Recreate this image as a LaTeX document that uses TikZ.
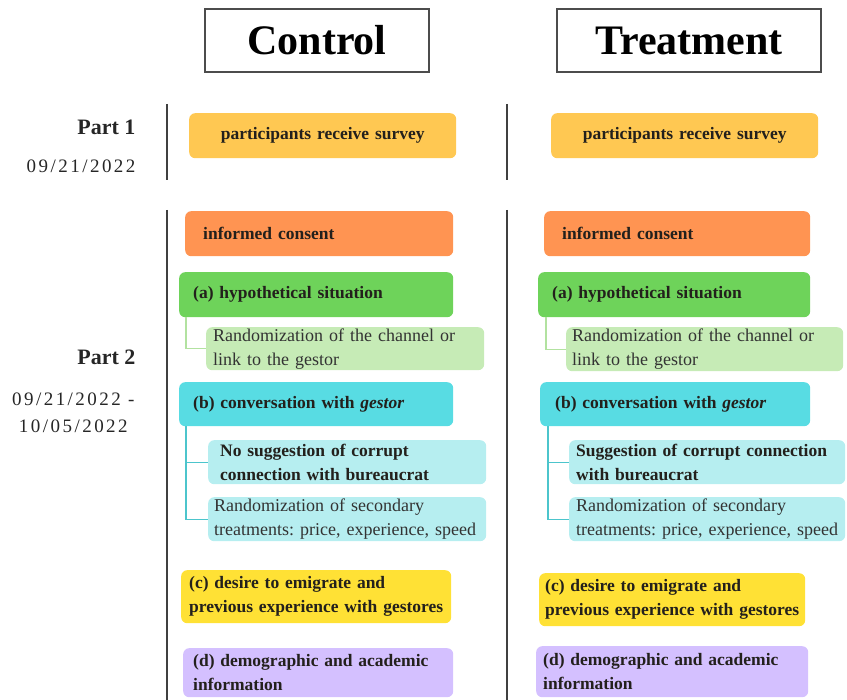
\documentclass[tikz,border=0pt]{standalone}
\usepackage{fontspec}
\setmainfont{Liberation Serif}
\newfontfamily\datefont[LetterSpace=13]{Liberation Serif}
\usetikzlibrary{calc}
\definecolor{csurvey}{RGB}{255,200,82}
\definecolor{cconsent}{RGB}{255,148,82}
\definecolor{chypo}{RGB}{110,211,90}
\definecolor{crand}{RGB}{198,235,182}
\definecolor{cconv}{RGB}{88,220,227}
\definecolor{csub}{RGB}{182,238,240}
\definecolor{cdesire}{RGB}{255,225,53}
\definecolor{cdemo}{RGB}{212,192,255}
\definecolor{clinkg}{RGB}{178,226,160}
\definecolor{clinkc}{RGB}{76,197,204}
\definecolor{ctext}{RGB}{35,32,28}
\newcommand{\myln}[1]{\mbox{#1}}
\tikzset{
  bx/.style={anchor=north west, rounded corners=6pt, draw=none, align=left,
    inner ysep=0pt, font=\fontsize{17.5}{24}\selectfont\bfseries\frenchspacing, text=ctext},
  sbx/.style={bx, font=\fontsize{18}{24}\selectfont\frenchspacing, text=black!80},
  sbbx/.style={bx, font=\fontsize{17.5}{24}\selectfont\bfseries\frenchspacing},
  title/.style={draw=black!70, line width=2pt, anchor=north west, inner sep=0pt,
    font=\fontsize{42}{44}\selectfont\bfseries},
  plabel/.style={anchor=east, align=right, font=\fontsize{22}{24}\selectfont\bfseries, text=black!85},
  dlabel/.style={anchor=east, align=center, font=\fontsize{19}{27}\selectfont\datefont, text=black!85},
  vline/.style={draw=black!75, line width=2.8pt},
  link/.style={line width=1.1pt}
}
\begin{document}
\begin{tikzpicture}[x=1pt,y=-1pt]
\useasboundingbox (0,0) rectangle (847,700);
% titles
\node[title, minimum width=224, minimum height=63] (tc) at (204,8) {Control};
\node[title, minimum width=264, minimum height=63] (tt) at (556,8) {Treatment};
% side labels
\node[plabel] (p1) at (139,127) {Part 1};
\node[dlabel] (d1) at (139,166) {09/21/2022};
\node[plabel] (p2) at (139,357) {Part 2};
\node[dlabel] (d2) at (138,413) {09/21/2022 -\\10/05/2022};
% vertical lines
\draw[vline] (167,104) -- (167,180);
\draw[vline] (167,210) -- (167,700);
\draw[vline] (507,104) -- (507,180);
\draw[vline] (507,210) -- (507,700);
% ---- Control column
\node[bx, fill=csurvey, align=center, minimum width=267, minimum height=45, text width=267-48, inner xsep=24] (sc) at (189,113) {\myln{participants receive survey}};
\node[bx, fill=cconsent, minimum height=45, text width=268-36, inner xsep=18] (ic) at (185,211) {informed consent};
\node[bx, fill=chypo, minimum height=45, text width=274-28, inner xsep=14] (hc) at (179,272) {(a) hypothetical situation};
\node[sbx, fill=crand, minimum height=43, text width=278-14, inner xsep=7] (rc) at (206,327) {\myln{Randomization of the channel or}\\\myln{link to the gestor}};
\node[bx, fill=cconv, minimum height=44, text width=274-28, inner xsep=14] (cc) at (179,382) {(b) conversation with \textit{gestor}};
\node[sbbx, fill=csub, minimum height=44, text width=278-24, inner xsep=12] (nc) at (208,440) {\myln{No suggestion of corrupt}\\\myln{connection with bureaucrat}};
\node[sbx, fill=csub, minimum height=44, text width=278-12, inner xsep=6] (xc) at (208,497) {\myln{Randomization of secondary}\\\myln{treatments: price, experience, speed}};
\node[sbbx, fill=cdesire, minimum height=53, text width=270-16, inner xsep=8] (ec) at (181,570) {\myln{(c) desire to emigrate and}\\\myln{previous experience with gestores}};
\node[sbbx, fill=cdemo, minimum height=49, text width=270-20, inner xsep=10] (mc) at (183,648) {\myln{(d) demographic and academic}\\\myln{information}};
% ---- Treatment column
\node[bx, fill=csurvey, align=center, minimum width=267, minimum height=45, text width=267-48, inner xsep=24] (st) at (551,113) {\myln{participants receive survey}};
\node[bx, fill=cconsent, minimum height=45, text width=266-36, inner xsep=18] (it) at (544,211) {informed consent};
\node[bx, fill=chypo, minimum height=45, text width=272-28, inner xsep=14] (ht) at (538,272) {(a) hypothetical situation};
\node[sbx, fill=crand, minimum height=44, text width=277-12, inner xsep=6] (rt) at (566,327) {\myln{Randomization of the channel or}\\\myln{link to the gestor}};
\node[bx, fill=cconv, minimum height=44, text width=270-30, inner xsep=15] (ct) at (540,382) {(b) conversation with \textit{gestor}};
\node[sbbx, fill=csub, minimum height=44, text width=276-14, inner xsep=7] (nt) at (569,440) {\myln{Suggestion of corrupt connection}\\\myln{with bureaucrat}};
\node[sbx, fill=csub, minimum height=44, text width=276-14, inner xsep=7] (xt) at (569,497) {\myln{Randomization of secondary}\\\myln{treatments: price, experience, speed}};
\node[sbbx, fill=cdesire, minimum height=53, text width=266-12, inner xsep=6] (et) at (539,573) {\myln{(c) desire to emigrate and}\\\myln{previous experience with gestores}};
\node[sbbx, fill=cdemo, minimum height=51, text width=272-14, inner xsep=7] (mt) at (536,646) {\myln{(d) demographic and academic}\\\myln{information}};
% connectors
\draw[link, clinkg] ($(hc.south west)+(7,0)$) |- (rc.west);
\draw[link, clinkg] ($(ht.south west)+(8,0)$) |- (rt.west);
\draw[link, clinkc] ($(cc.south west)+(7,0)$) |- (xc.west);
\draw[link, clinkc] ($(cc.south west)+(7,0)$) |- (nc.west);
\draw[link, clinkc] ($(ct.south west)+(8,0)$) |- (xt.west);
\draw[link, clinkc] ($(ct.south west)+(8,0)$) |- (nt.west);
\end{tikzpicture}
\end{document}
